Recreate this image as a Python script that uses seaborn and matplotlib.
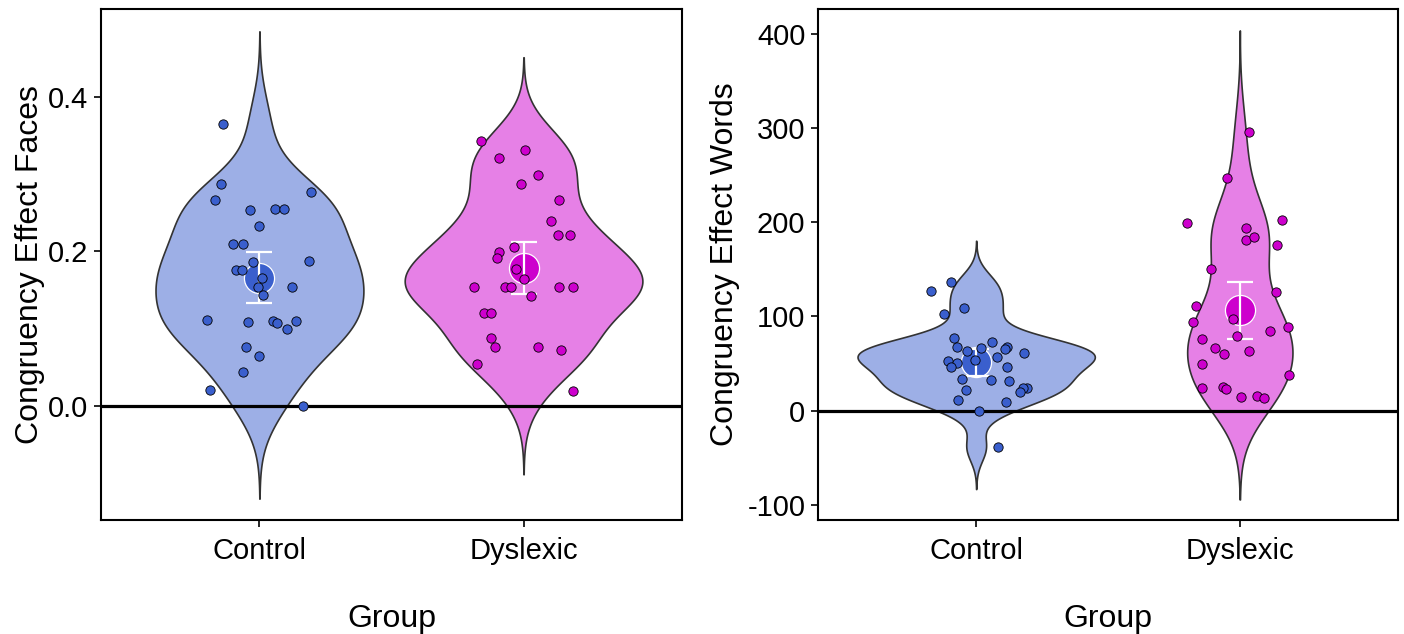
import numpy as np
import pandas as pd
import matplotlib
matplotlib.use("Agg")
import matplotlib.pyplot as plt
import seaborn as sns

# ---------------- data ----------------
groups = ["Control", "Dyslexic"]

faces_control = [0.365, 0.287, 0.266, 0.277, 0.254, 0.255, 0.255, 0.233, 0.210, 0.210,
                 0.187, 0.188, 0.176, 0.176, 0.166, 0.154, 0.154, 0.144, 0.111, 0.109,
                 0.110, 0.107, 0.110, 0.100, 0.076, 0.065, 0.044, 0.021, 0.000]
faces_control_jitter = [-0.139, -0.145, -0.169, 0.194, -0.035, 0.057, 0.093, -0.001, -0.102, -0.061,
                        -0.023, 0.188, -0.090, -0.067, 0.008, -0.005, 0.124, 0.014, -0.197, -0.042,
                        0.050, 0.065, 0.139, 0.106, -0.052, -0.001, -0.061, -0.189, 0.166]

faces_dyslexic = [0.343, 0.332, 0.321, 0.299, 0.288, 0.266, 0.240, 0.221, 0.221, 0.206,
                  0.199, 0.192, 0.177, 0.165, 0.154, 0.154, 0.154, 0.154, 0.154, 0.143,
                  0.121, 0.121, 0.088, 0.076, 0.076, 0.072, 0.054, 0.020]
faces_dyslexic_jitter = [-0.161, 0.005, -0.094, 0.055, -0.010, 0.134, 0.103, 0.131, 0.176, -0.038,
                         -0.092, -0.102, -0.030, 0.003, -0.189, -0.072, -0.046, 0.134, 0.188, 0.029,
                         -0.148, -0.122, -0.125, -0.109, 0.055, 0.140, -0.178, 0.186]

words_control = [127, 136, 103, 109, 77, 67, 63, 66, 73, 67,
                 65, 61, 57, 54, 53, 50, 46, 46, 34, 32,
                 31, 22, 24, 24, 20, 11, 9, 0, -39]
words_control_jitter = [-0.172, -0.094, -0.121, -0.048, -0.083, -0.073, -0.033, 0.018, 0.060, 0.116,
                        0.109, 0.180, 0.078, -0.003, -0.107, -0.073, -0.094, 0.118, -0.052, 0.058,
                        0.126, -0.040, 0.191, 0.178, 0.166, -0.069, 0.112, 0.011, 0.084]

words_dyslexic = [296, 246.6, 198.5, 202, 194, 181.5, 184, 176, 150.4, 125.6,
                  110.7, 94, 97.7, 88.8, 84.2, 79.6, 76, 66.9, 60.5, 63.3,
                  49.5, 37.5, 23.7, 25.5, 22.6, 14.5, 15.9, 13.1]
words_dyslexic_jitter = [0.034, -0.048, -0.199, 0.160, 0.023, 0.024, 0.055, 0.141, -0.109, 0.136,
                         -0.165, -0.178, -0.026, 0.182, 0.116, -0.009, -0.142, -0.094, -0.060, 0.034,
                         -0.145, 0.188, -0.142, -0.063, -0.054, 0.003, 0.065, 0.093]

y_labels = ["Congruency Effect Faces", "Congruency Effect Words"]
x_label = "Group"

# ---------------- style ----------------
point_colors = ["#3A5FCD", "#CD00CD"]
fill_colors = ["#9DAFE6", "#E680E6"]

sns.set_theme(style="ticks")
plt.rcParams["font.family"] = ["Liberation Sans", "DejaVu Sans"]

try:
    from scipy import stats
    def tcrit(n):
        return stats.t.ppf(0.975, n - 1)
except Exception:
    def tcrit(n):
        return 2.05


def nrd0(v):
    v = np.asarray(v, float)
    sd = v.std(ddof=1)
    q75, q25 = np.percentile(v, [75, 25])
    lo = min(sd, (q75 - q25) / 1.34)
    return 0.9 * lo * len(v) ** -0.2


def kde_peak(v, bw):
    v = np.asarray(v, float)
    grid = np.linspace(v.min() - 3 * bw, v.max() + 3 * bw, 512)
    d = np.exp(-0.5 * ((grid[:, None] - v[None, :]) / bw) ** 2).sum(1)
    return (d / (len(v) * bw * np.sqrt(2 * np.pi))).max()


fig = plt.figure(figsize=(14.04, 6.34), dpi=100)
ax1 = fig.add_axes([101 / 1404, 1 - 520 / 634, 581 / 1404, 511 / 634])
ax2 = fig.add_axes([818 / 1404, 1 - 520 / 634, 580 / 1404, 511 / 634])

panels = [
    (ax1, [faces_control, faces_dyslexic], [faces_control_jitter, faces_dyslexic_jitter],
     (-0.1476, 0.5139), [0.0, 0.2, 0.4], "{:.1f}", -0.122),
    (ax2, [words_control, words_dyslexic], [words_control_jitter, words_dyslexic_jitter],
     (-116, 426), [-100, 0, 100, 200, 300, 400], "{:.0f}", -0.160),
]

for pi, (ax, vals, jits, ylim, yticks, fmt, ylab_x) in enumerate(panels):
    bws = [nrd0(v) for v in vals]
    peaks = [kde_peak(v, bw) for v, bw in zip(vals, bws)]
    for i, (g, v) in enumerate(zip(groups, vals)):
        v = np.asarray(v, float)
        df = pd.DataFrame({"Group": [g] * len(v), "y": v})
        sns.violinplot(data=df, x="Group", y="y", order=groups, color=fill_colors[i],
                       linecolor="#333333", linewidth=1.2, inner=None, cut=3,
                       bw_method=bws[i] / v.std(ddof=1), gridsize=512,
                       density_norm="width", width=0.9 * peaks[i] / max(peaks),
                       saturation=1, ax=ax)
    ax.axhline(0, color="black", lw=2.3, zorder=2)
    for i, (v, j) in enumerate(zip(vals, jits)):
        v = np.asarray(v, float)
        m = v.mean()
        ci = tcrit(len(v)) * v.std(ddof=1) / np.sqrt(len(v))
        sns.scatterplot(x=[i], y=[m], s=470, color=point_colors[i], edgecolor="white",
                        linewidth=0.9, zorder=3, ax=ax, legend=False)
        ax.errorbar([i], [m], yerr=[ci], fmt="none", ecolor="white", elinewidth=1.6,
                    capsize=9.5, capthick=1.6, zorder=4)
        sns.scatterplot(x=i + np.asarray(j), y=v, s=45, color=point_colors[i],
                        edgecolor="black", linewidth=0.6, zorder=5, ax=ax, legend=False)

    ax.set_xlim(-0.6, 1.6)
    ax.set_ylim(*ylim)
    ax.set_xticks([0, 1])
    ax.set_xticklabels(groups)
    ax.set_yticks(yticks)
    ax.set_yticklabels([fmt.format(t) for t in yticks])
    ax.tick_params(axis="both", labelsize=21, colors="black", length=5, width=1.2,
                   direction="out", pad=4)
    ax.tick_params(axis="x", pad=7)
    for sp in ax.spines.values():
        sp.set_visible(True)
        sp.set_linewidth(1.5)
        sp.set_color("black")
    ax.set_xlabel(x_label, fontsize=23, color="black")
    ax.xaxis.label.set_va("center")
    ax.xaxis.set_label_coords(0.5, -0.193)
    ax.set_ylabel(y_labels[pi], fontsize=23, color="black")
    ax.yaxis.label.set_va("center")
    ax.yaxis.set_label_coords(ylab_x, 0.5)
    ax.grid(False)
    ax.set_facecolor("white")

fig.savefig("out.png", dpi=100, facecolor="white")
